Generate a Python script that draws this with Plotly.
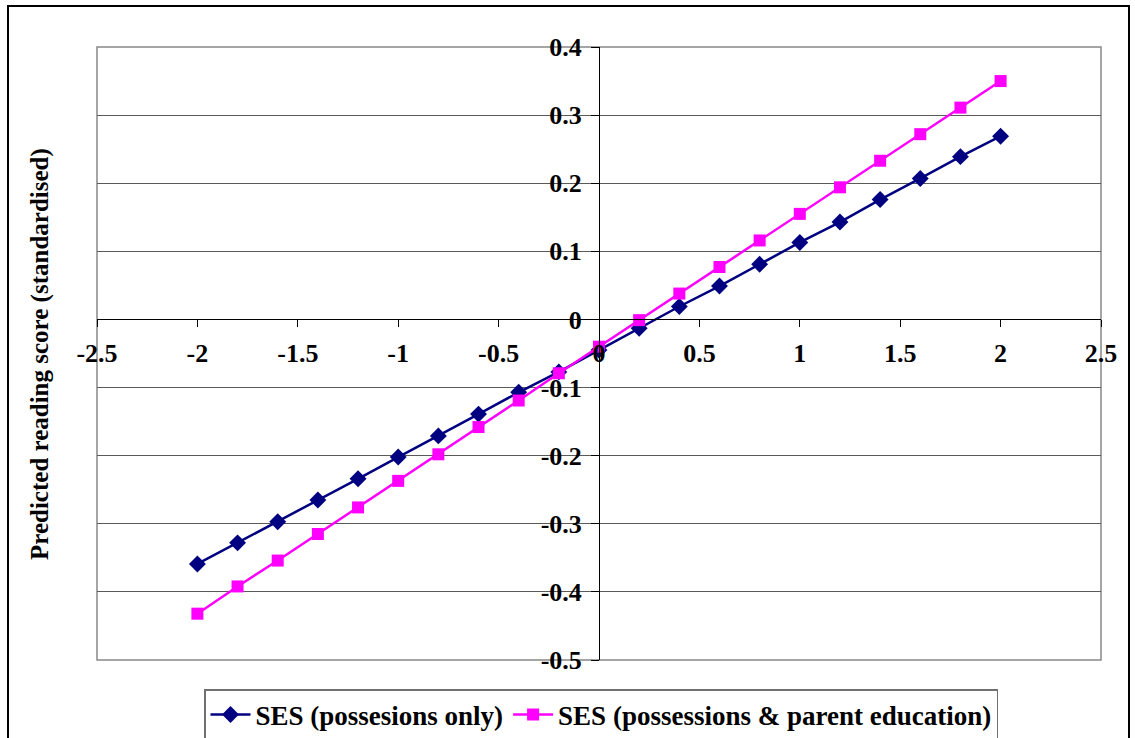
import plotly.graph_objects as go

x_vals = [-2.0, -1.8, -1.6, -1.4, -1.2, -1.0, -0.8, -0.6, -0.4, -0.2, 0.0,
          0.2, 0.4, 0.6, 0.8, 1.0, 1.2, 1.4, 1.6, 1.8, 2.0]
ses_possessions = [-0.359, -0.328, -0.297, -0.265, -0.234, -0.202, -0.171, -0.139, -0.107, -0.077, -0.045,
                   -0.013, 0.019, 0.049, 0.081, 0.113, 0.143, 0.176, 0.207, 0.239, 0.269]
ses_parent_edu = [-0.432, -0.392, -0.354, -0.315, -0.276, -0.237, -0.198, -0.158, -0.119, -0.079, -0.040,
                  -0.001, 0.038, 0.077, 0.116, 0.155, 0.194, 0.233, 0.272, 0.311, 0.350]
series_names = ["SES (possesions only)", "SES (possessions & parent education)"]
x_ticks = [-2.5, -2, -1.5, -1, -0.5, 0, 0.5, 1, 1.5, 2, 2.5]
x_ticklabels = ["-2.5", "-2", "-1.5", "-1", "-0.5", "0", "0.5", "1", "1.5", "2", "2.5"]
y_ticks = [-0.5, -0.4, -0.3, -0.2, -0.1, 0, 0.1, 0.2, 0.3, 0.4]
y_ticklabels = ["-0.5", "-0.4", "-0.3", "-0.2", "-0.1", "0", "0.1", "0.2", "0.3", "0.4"]
y_title = "Predicted reading score (standardised)"

FONT = "Liberation Serif"

fig = go.Figure()
fig.add_trace(go.Scatter(
    x=x_vals, y=ses_possessions, mode="lines+markers", name=series_names[0],
    line=dict(color="#000080", width=2.5),
    marker=dict(symbol="diamond", size=13, color="#000080"),
))
fig.add_trace(go.Scatter(
    x=x_vals, y=ses_parent_edu, mode="lines+markers", name=series_names[1],
    line=dict(color="#FF00FF", width=2.5),
    marker=dict(symbol="square", size=12, color="#FF00FF"),
))

W, H = 1135, 738
L, R, T, B = 97, 34, 47, 78
plot_w = W - L - R
plot_h = H - T - B

yr = [-0.5, 0.4]
xr = [-2.5, 2.5]
x_axis_pos = (0 - yr[0]) / (yr[1] - yr[0])
y_axis_pos = (0 - xr[0]) / (xr[1] - xr[0])

fig.update_layout(
    width=W, height=H,
    margin=dict(l=L, r=R, t=T, b=B, autoexpand=False),
    paper_bgcolor="white", plot_bgcolor="white",
    font=dict(family=FONT, size=25, color="black"),
    showlegend=True,
    legend=dict(
        orientation="h", x=(601 - L) / plot_w, xanchor="center",
        y=-(689 - (H - B)) / plot_h, yanchor="top",
        font=dict(family=FONT, size=27, color="black", weight="bold"),
        bordercolor="#707070", borderwidth=1.5, bgcolor="white",
        itemwidth=40, tracegroupgap=0,
    ),
    xaxis=dict(
        range=xr, tickvals=x_ticks, ticktext=x_ticklabels,
        showgrid=False, zeroline=False,
        showline=True, linecolor="black", linewidth=1,
        ticks="outside", ticklen=7, tickcolor="black", tickwidth=1,
        anchor="free", position=x_axis_pos, side="bottom",
        tickfont=dict(family=FONT, size=26, color="black", weight="bold"),
        ticklabelstandoff=3,
    ),
    yaxis=dict(
        range=yr, tickvals=y_ticks, ticktext=y_ticklabels,
        showgrid=True, gridcolor="#5a5a5a", gridwidth=1, zeroline=False,
        showline=True, linecolor="black", linewidth=1,
        ticks="outside", ticklen=8, tickcolor="black", tickwidth=1,
        anchor="free", position=y_axis_pos, side="left",
        tickfont=dict(family=FONT, size=26, color="black", weight="bold"),
        ticklabelstandoff=4,
    ),
    shapes=[
        dict(type="rect", xref="paper", yref="paper", x0=0, x1=1, y0=0, y1=1,
             line=dict(color="#888888", width=1.5), layer="below"),
        dict(type="rect", xref="paper", yref="paper",
             x0=(8 - L) / plot_w, x1=(1129 - L) / plot_w,
             y0=-(745 - (H - B)) / plot_h, y1=1 + (T - 6) / plot_h,
             line=dict(color="black", width=2), layer="below"),
    ],
    annotations=[
        dict(text=y_title, xref="paper", yref="paper",
             x=(40 - L) / plot_w, y=(H - B - 354) / plot_h, textangle=-90, showarrow=False,
             xanchor="center", yanchor="middle",
             font=dict(family=FONT, size=25, color="black", weight="bold")),
    ],
)

fig.write_html("out.html")
